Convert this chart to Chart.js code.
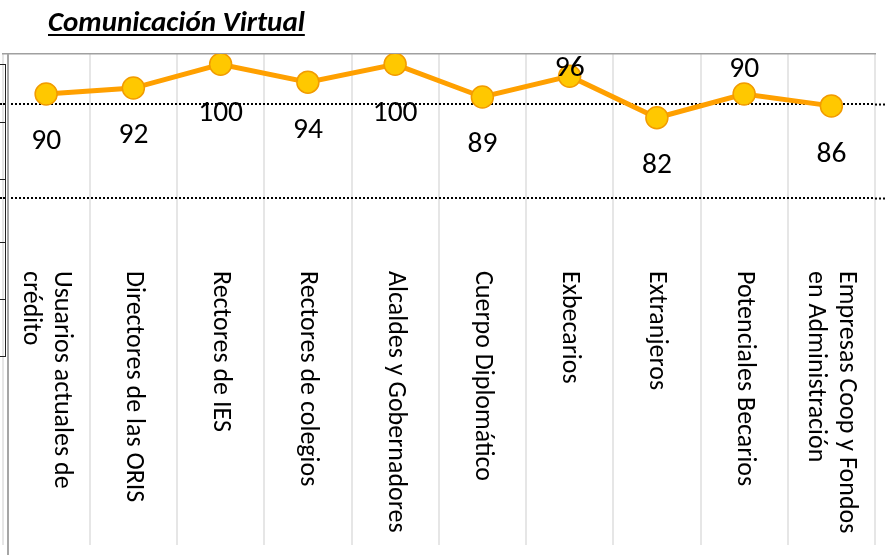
<!DOCTYPE html>
<html>
<head>
<meta charset="utf-8">
<script src="https://cdn.jsdelivr.net/npm/chart.js@4.4.1/dist/chart.umd.min.js"></script>
<style>
  html, body { margin: 0; padding: 0; background: #fff; }
  #wrap { position: relative; width: 885px; height: 555px; overflow: hidden; }
  #chart { position: absolute; left: 0; top: 0; }
  .title {
    position: absolute; left: 48px; top: 7px;
    font: italic bold 29px Carlito, Lato, sans-serif; line-height: 29px; color: #000;
    text-decoration: underline; text-decoration-thickness: 2px; text-underline-offset: 3px;
    white-space: nowrap;
  }
  .vline { position: absolute; left: 7px; top: 54px; width: 1.5px; height: 501px; background: #a6a6a6; }
  .cell { position: absolute; left: -2px; width: 6px; border: 1.5px solid #222; border-top: none; }
</style>
</head>
<body>
<div id="wrap">
  <canvas id="chart" width="885" height="555"></canvas>
  <div class="vline"></div>
  <div class="cell" style="top:64px;height:57px;border-top:1.5px solid #222"></div>
  <div class="cell" style="top:122px;height:57px"></div>
  <div class="cell" style="top:180px;height:62px"></div>
  <div class="cell" style="top:243px;height:56px"></div>
  <div class="cell" style="top:300px;height:56px"></div>
  <div class="title">Comunicación Virtual</div>
</div>
<script>
const categories = [
  ["Usuarios actuales de", "crédito"],
  "Directores de las ORIS",
  "Rectores de IES",
  "Rectores de colegios",
  "Alcaldes y Gobernadores",
  "Cuerpo Diplomático",
  "Exbecarios",
  "Extranjeros",
  "Potenciales Becarios",
  ["Empresas Coop y Fondos", "en Administración"]
];
const scores = [90, 92, 100, 94, 100, 89, 96, 82, 90, 86];
// dotted reference lines behind the chart
const referenceLines = [86.6, 54.9];

// where each value label sits relative to its point (px, + is below)
const labelShift = [48, 48, 49, 48, 49, 48, -8, 48, -24, 49];

const LINE = "#ffa000";
const DOT = "#ffc800";
const DOT_EDGE = "#f29b00";
const FONT = "Carlito, Lato, sans-serif";

// value labels next to the points, like Excel data labels
const valueLabels = {
  id: "valueLabels",
  afterDatasetsDraw(chart) {
    const ctx = chart.ctx;
    const meta = chart.getDatasetMeta(0);
    ctx.save();
    ctx.font = "29.5px " + FONT;
    ctx.fillStyle = "#000";
    ctx.textAlign = "center";
    ctx.textBaseline = "middle";
    meta.data.forEach((pt, i) => {
      ctx.fillText(String(scores[i]), pt.x, pt.y + labelShift[i]);
    });
    ctx.restore();
  }
};

// category names, rotated clockwise and hanging from the same top line
const categoryLabels = {
  id: "categoryLabels",
  afterDraw(chart) {
    const ctx = chart.ctx;
    const x = chart.scales.x;
    const lh = 31;
    ctx.save();
    ctx.font = "26px " + FONT;
    ctx.fillStyle = "#000";
    ctx.textAlign = "left";
    ctx.textBaseline = "middle";
    x.ticks.forEach((t, i) => {
      const lines = [].concat(categories[i]);
      ctx.save();
      ctx.translate(x.getPixelForTick(i), 271);
      ctx.rotate(Math.PI / 2);
      lines.forEach((s, j) => {
        ctx.fillText(s, 0, (j - (lines.length - 1) / 2) * lh);
      });
      ctx.restore();
    });
    ctx.restore();
  }
};

const refTicks = (axis) => { axis.ticks = referenceLines.map((v) => ({ value: v })); };

new Chart(document.getElementById("chart"), {
  type: "line",
  data: {
    labels: categories,
    datasets: [{
      data: scores,
      borderColor: LINE,
      borderWidth: 5,
      pointRadius: 11,
      pointBackgroundColor: DOT,
      pointBorderColor: DOT_EDGE,
      pointBorderWidth: 1.5,
      tension: 0,
    }],
  },
  options: {
    responsive: false,
    animation: false,
    layout: { autoPadding: false, padding: { top: 54, bottom: 10, left: 0, right: 0 } },
    plugins: { legend: { display: false }, tooltip: { enabled: false }, title: { display: false } },
    scales: {
      x: {
        offset: true,
        grid: { offset: true, color: "#e6e6e6", lineWidth: 2, drawTicks: false },
        ticks: { display: false, autoSkip: false },
        border: { display: false },
      },
      xTop: {
        position: "top",
        grid: { display: false, drawTicks: false },
        ticks: { display: false },
        border: { display: true, color: "#a0a0a0", width: 1.5 },
      },
      y: {
        min: -61.85,
        max: 103.47,
        afterBuildTicks: refTicks,
        grid: { color: "#000", lineWidth: 2, drawTicks: true, tickLength: 2.5, tickColor: "#000", tickWidth: 2, tickBorderDash: [2, 2] },
        ticks: { display: false },
        border: { display: false, dash: [2, 2] },
      },
      yRight: {
        position: "right",
        min: -61.85,
        max: 103.47,
        afterBuildTicks: refTicks,
        grid: { drawOnChartArea: false, drawTicks: true, tickLength: 10, tickColor: "#000", tickWidth: 2, tickBorderDash: [2, 2] },
        ticks: { display: false },
        border: { display: false },
      },
    },
  },
  plugins: [valueLabels, categoryLabels],
});
</script>
</body>
</html>
